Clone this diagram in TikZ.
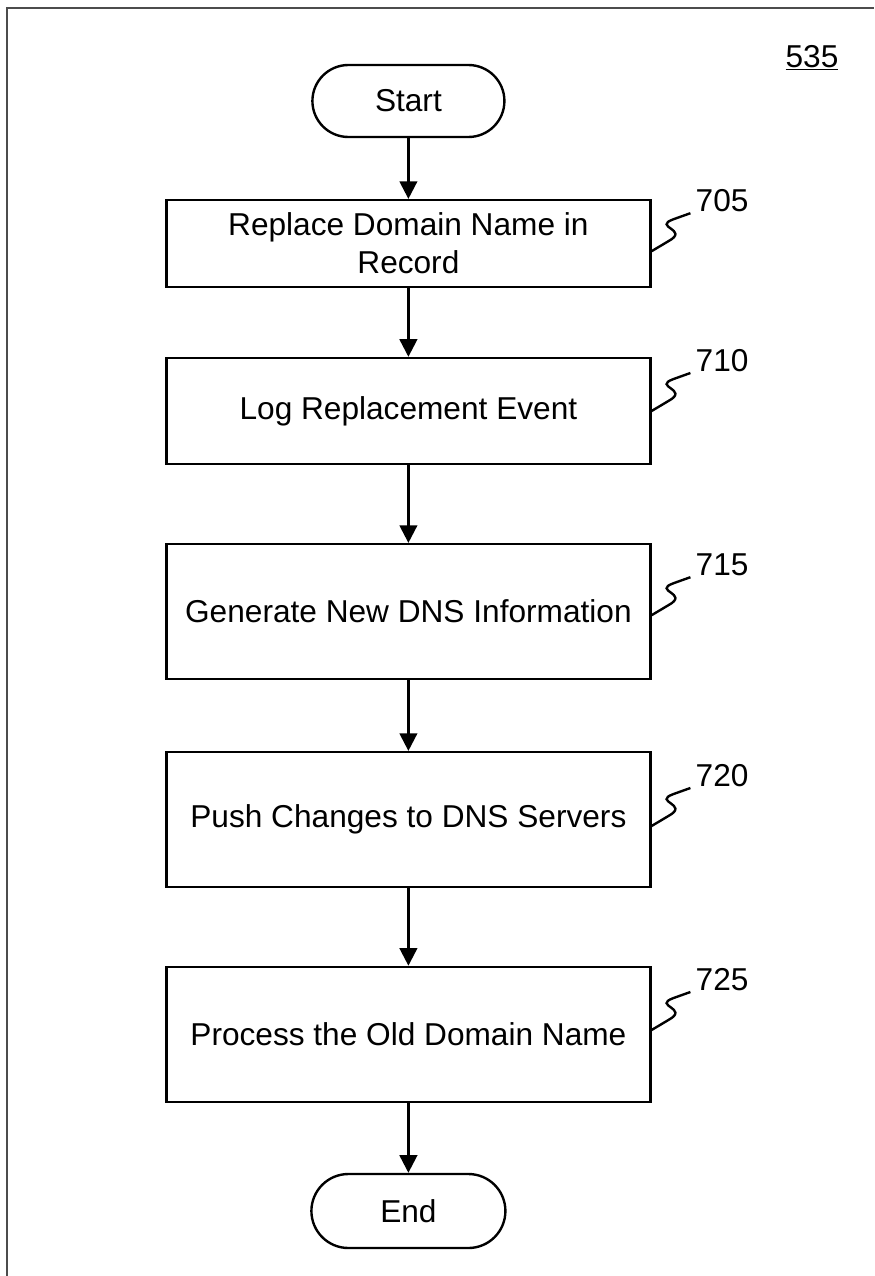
\documentclass[tikz,border=0pt]{standalone}
\usepackage{fontspec}
\setmainfont{Liberation Sans}
\usetikzlibrary{arrows.meta}
\newcommand{\bigtext}{\fontsize{22.5}{27}\selectfont}
\tikzset{
  stepbox/.style={draw, line width=1.7pt, minimum width=12.1cm, inner sep=0pt, align=center, font=\bigtext},
  termbox/.style={draw, line width=1.7pt, rounded corners=0.9cm, minimum width=4.8cm, minimum height=1.8cm, font=\bigtext},
  flow/.style={line width=1.7pt, -{Triangle[length=0.44cm,width=0.44cm]}},
  squig/.style={line width=1.7pt},
  refnum/.style={anchor=base west, inner sep=0pt, font=\bigtext}
}
\begin{document}
\begin{tikzpicture}
        \useasboundingbox (0,0) rectangle (21.85,-31.9);
        \draw[line width=1.3pt, gray!60!black] (0.175,-31.9) -- (0.175,-0.2) -- (21.85,-0.2);
        \node[font=\bigtext] (fig) at (20.3,-1.45) {\underline{535}};

        \node[termbox] (start) at (10.21,-2.525) {Start};
        \node[stepbox, minimum height=2.175cm] (b705) at (10.21,-6.09) {Replace Domain Name in\\Record};
        \node[stepbox, minimum height=2.65cm] (b710) at (10.21,-10.275) {Log Replacement Event};
        \node[stepbox, minimum height=3.375cm] (b715) at (10.21,-15.29) {Generate New DNS Information};
        \node[stepbox, minimum height=3.375cm] (b720) at (10.21,-20.49) {Push Changes to DNS Servers};
        \node[stepbox, minimum height=3.375cm] (b725) at (10.21,-25.86) {Process the Old Domain Name};
        \node[termbox, minimum width=4.85cm, minimum height=1.85cm, rounded corners=0.925cm] (end) at (10.21,-30.275) {End};

        \draw[flow] (start) -- (b705);
        \draw[flow] (b705) -- (b710);
        \draw[flow] (b710) -- (b715);
        \draw[flow] (b715) -- (b720);
        \draw[flow] (b720) -- (b725);
        \draw[flow] (b725) -- (end);

        % reference numerals
        \draw[squig] ([yshift=-0.19cm]b705.east) -- ++(0.42,0.25) .. controls +(0.55,0.3) and +(-0.55,-0.2) .. ++(0.13,0.55) -- ++(0.42,0.15) coordinate (r705);
        \draw[squig] (b710.east) -- ++(0.42,0.25) .. controls +(0.55,0.3) and +(-0.55,-0.2) .. ++(0.13,0.55) -- ++(0.42,0.15) coordinate (r710);
        \draw[squig] ([yshift=-0.09cm]b715.east) -- ++(0.42,0.25) .. controls +(0.55,0.3) and +(-0.55,-0.2) .. ++(0.13,0.55) -- ++(0.42,0.15) coordinate (r715);
        \draw[squig] ([yshift=-0.16cm]b720.east) -- ++(0.42,0.25) .. controls +(0.55,0.3) and +(-0.55,-0.2) .. ++(0.13,0.55) -- ++(0.42,0.15) coordinate (r720);
        \draw[squig] ([yshift=0.11cm]b725.east) -- ++(0.42,0.25) .. controls +(0.55,0.3) and +(-0.55,-0.2) .. ++(0.13,0.55) -- ++(0.42,0.15) coordinate (r725);
        \node[refnum] (n705) at ([shift={(0.125,0.05)}]r705) {705};
        \node[refnum] (n710) at ([shift={(0.125,0.05)}]r710) {710};
        \node[refnum] (n715) at ([shift={(0.125,0.05)}]r715) {715};
        \node[refnum] (n720) at ([shift={(0.125,0.05)}]r720) {720};
        \node[refnum] (n725) at ([shift={(0.125,0.05)}]r725) {725};
\end{tikzpicture}
\end{document}
